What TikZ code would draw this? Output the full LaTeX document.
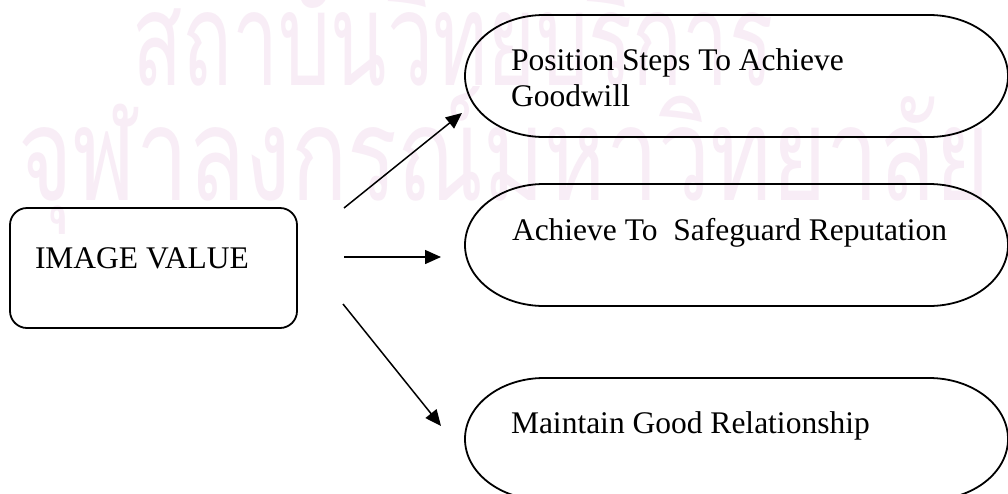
\documentclass[tikz,border=0pt]{standalone}
\usepackage{fontspec}
\setmainfont{Liberation Serif}
\newfontfamily\thaifont[Script=Thai]{Loma}
\usetikzlibrary{arrows.meta,calc}
\definecolor{wmark}{RGB}{248,237,246}
\tikzset{
  ivbox/.style={draw, line width=1.8pt, rounded corners=17pt, minimum width=287pt, minimum height=120pt, inner sep=0pt, outer sep=0pt},
  pillbox/.style={draw=none, minimum width=543pt, minimum height=122pt, inner sep=0pt, outer sep=0pt},
  pillline/.style={line width=1.8pt},
  lbl/.style={inner sep=0pt, outer sep=0pt, anchor=base west, font=\fontsize{31.5}{35}\selectfont},
  conn/.style={line width=1.5pt, -{Triangle[length=16pt,width=14pt]}},
  wm/.style={inner sep=0pt, anchor=base west, text=wmark}
}
\def\prx{79pt}
\newcommand{\pilloutline}[1]{%
 \draw[pillline] ([xshift=\prx]#1.north west) -- ([xshift=-\prx]#1.north east)
 .. controls ([xshift=-0.448*\prx]#1.north east) and ([yshift=33.7pt]#1.east) .. (#1.east)
 .. controls ([yshift=-33.7pt]#1.east) and ([xshift=-0.448*\prx]#1.south east) .. ([xshift=-\prx]#1.south east)
 -- ([xshift=\prx]#1.south west)
 .. controls ([xshift=0.448*\prx]#1.south west) and ([yshift=-33.7pt]#1.west) .. (#1.west)
 .. controls ([yshift=33.7pt]#1.west) and ([xshift=0.448*\prx]#1.north west) .. cycle;}
\begin{document}
\begin{tikzpicture}[x=1pt,y=-1pt]
\useasboundingbox (0,0) rectangle (1008,493);
\clip (0,0) rectangle (1008,493);
\fill[white] (0,0) rectangle (1008,493);
% watermark
\node[wm] (w1) at (132,85) {\resizebox{641pt}{\height}{\thaifont\fontsize{130}{140}\selectfont สถาบันวิทยบริการ}};
\node[wm] (w2) at (18,200) {\resizebox{972pt}{\height}{\thaifont\fontsize{130}{140}\selectfont จุฬาลงกรณ์มหาวิทยาลัย}};
% main box
\node[ivbox] (iv) at (153.5,268) {};
\node[lbl] (ivt) at (35,268) {IMAGE VALUE};
% pills
\node[pillbox] (p1) at (736.5,76) {};
\node[pillbox] (p2) at (736.5,245) {};
\node[pillbox] (p3) at (736.5,439) {};
\pilloutline{p1}
\pilloutline{p2}
\pilloutline{p3}
\node[lbl] (t1a) at (511,70) {Position Steps To Achieve};
\node[lbl] (t1b) at (511,106) {Goodwill};
\node[lbl] (t2) at (512,240) {Achieve To\ \ Safeguard Reputation};
\node[lbl] (t3) at (511,433) {Maintain Good Relationship};
% connectors
\coordinate (a1s) at (344,208);
\coordinate (a1e) at (462,113);
\coordinate (a2s) at (344,257);
\coordinate (a2e) at (441,257);
\coordinate (a3s) at (343,304);
\coordinate (a3e) at (441,426);
\draw[conn] (a1s) -- (a1e);
\draw[conn] (a2s) -- (a2e);
\draw[conn] (a3s) -- (a3e);
\end{tikzpicture}
\end{document}
